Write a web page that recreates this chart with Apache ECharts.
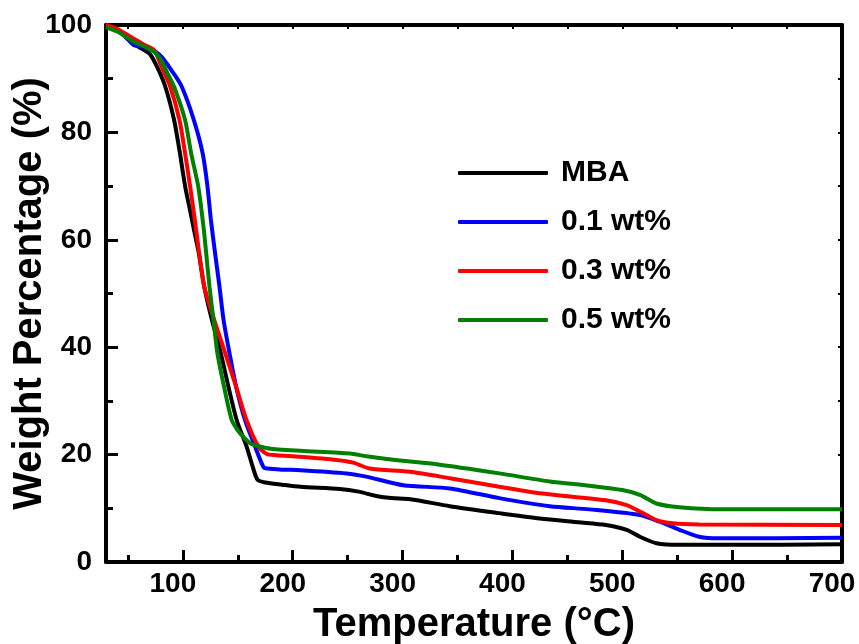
<!DOCTYPE html>
<html>
<head>
<meta charset="utf-8">
<script src="https://cdn.jsdelivr.net/npm/echarts@6/dist/echarts.min.js"></script>
<style>
  html, body { margin: 0; padding: 0; background: #fff; }
  #tga { width: 859px; height: 644px; }
</style>
</head>
<body>
<div id="tga"></div>
<script>
// temperature (°C), weight (%)
var mba = [[30,100],[42,99],[55,96.5],[65,95.3],[70,94.6],[77,92],[84,88.5],[92,82.3],[97,76.5],[102,70],[106.5,65.5],[110.5,61.5],[114.5,57.5],[119.4,51.3],[126.4,45.1],[134.5,38.9],[141.5,32.6],[149,26.4],[158,21.5],[163.6,17.7],[168,15.3],[175,14.8],[190,14.4],[207,14.0],[243,13.6],[260,13.1],[276,12.3],[290,11.9],[307,11.7],[343,10.4],[388,9.1],[425,8.1],[460,7.4],[485,6.9],[504,6.0],[516,4.7],[531,3.5],[552,3.2],[600,3.2],[700,3.3]];
var wt01 = [[30,100],[42,98.8],[50,97.3],[55,96.3],[62,96],[70,95.5],[76,94.9],[81,94],[91.5,91],[99,88.5],[110,82.3],[118,76.1],[122.4,69.9],[125.5,63.7],[129.3,57.5],[133.3,51.3],[137,45.1],[142.4,38.9],[148.5,32.6],[156.6,26.4],[165.7,21.5],[173.3,17.7],[177,17.4],[190,17.2],[207,17.1],[249,16.5],[267,15.9],[300.6,14.3],[343,13.7],[388,11.9],[434,10.4],[470,9.8],[516,8.75],[534,7.5],[552,6.0],[570,4.7],[588,4.4],[700,4.5]];
var wt03 = [[30,100],[40,99.3],[55,97.5],[65,96.3],[74,95.3],[80,92.5],[88.5,88.5],[96.9,82.3],[102,76.1],[106.6,69.9],[111,63.5],[114.5,58],[119.4,51.3],[128.5,45.1],[138.5,38.9],[148.5,32.6],[158,26.4],[168.7,21.5],[176.4,20.1],[185,19.9],[207,19.6],[240,19.0],[255,18.5],[270,17.4],[307,16.8],[343,15.6],[388,14.0],[425,12.8],[485,11.5],[504,10.6],[516,9.4],[531,7.8],[546,7.2],[570,7.0],[700,6.9]];
var wt05 = [[30,99.6],[42,98.6],[55,96.9],[65,96],[74,95],[80,93.5],[86,91],[92,88.5],[102,82.3],[107.5,76.1],[114,69.9],[118.7,62.5],[121.2,57.5],[124.2,51.3],[127.8,45.1],[131.4,38.9],[137.5,32.6],[144.5,26.4],[150,24.5],[155,23.3],[162,22],[170,21.5],[180,21.1],[207,20.7],[252,20.2],[267,19.7],[297.5,18.9],[331,18.2],[388,16.5],[434,15.0],[470,14.2],[500,13.4],[516,12.5],[531,10.9],[552,10.2],[591,9.8],[700,9.8]];

var seriesNames = ['MBA', '0.1 wt%', '0.3 wt%', '0.5 wt%'];
var seriesColors = ['#000000', '#0000ff', '#ff0000', '#008000'];
var xMajor = [100, 200, 300, 400, 500, 600, 700];
var xMinor = [50, 150, 250, 350, 450, 550, 650];
var xAll = [50, 100, 150, 200, 250, 300, 350, 400, 450, 500, 550, 600, 650, 700];

var fontFam = '"Liberation Sans", Arial, sans-serif';
var blackLine = { color: '#000', width: 4 };

function mkSeries(i, d) {
    return {
        name: seriesNames[i],
        type: 'line',
        data: d,
        xAxisIndex: 0,
        yAxisIndex: 0,
        showSymbol: false,
        smooth: 0.25,
        color: seriesColors[i],
        lineStyle: { width: 4, color: seriesColors[i] },
        z: 2 + i
    };
}

var chart = echarts.init(document.getElementById('tga'));
var option = {
    animation: false,
    backgroundColor: '#fff',
    grid: { left: 106, right: 17, top: 25, bottom: 82, containLabel: false, outerBoundsMode: 'none' },
    legend: {
        orient: 'vertical',
        left: 453,
        top: 153,
        itemWidth: 90,
        itemHeight: 4,
        itemGap: 19,
        icon: 'roundRect',
        data: seriesNames,
        textStyle: { fontFamily: fontFam, fontWeight: 'bold', fontSize: 30, color: '#000', padding: [0, 0, 0, 8] }
    },
    xAxis: [{
        type: 'value', min: 30, max: 700, position: 'bottom',
        name: 'Temperature (°C)', nameLocation: 'middle', nameGap: 43, nameMoveOverlap: false,
        nameTextStyle: { fontFamily: fontFam, fontWeight: 'bold', fontSize: 40, color: '#000' },
        axisLine: { show: true, lineStyle: blackLine },
        axisTick: { show: true, inside: true, length: 12, customValues: xMajor, lineStyle: { color: '#000', width: 3 } },
        axisLabel: { customValues: xMajor, margin: 8, padding: [0, 20, 0, 0], fontFamily: fontFam, fontWeight: 'bold', fontSize: 28, color: '#000' },
        splitLine: { show: false }
    }, {
        // minor ticks along the bottom
        type: 'value', min: 30, max: 700, position: 'bottom',
        axisLine: { show: false },
        axisTick: { show: true, inside: true, length: 7, customValues: xMinor, lineStyle: { color: '#000', width: 3 } },
        axisLabel: { show: false },
        splitLine: { show: false }
    }, {
        type: 'value', min: 30, max: 700, position: 'top',
        axisLine: { show: true, lineStyle: blackLine },
        axisTick: { show: true, inside: true, length: 4, customValues: xAll, lineStyle: { color: '#000', width: 2 } },
        axisLabel: { show: false },
        splitLine: { show: false }
    }],
    yAxis: [{
        type: 'value', min: 0, max: 100, interval: 20, position: 'left',
        name: 'Weight Percentage (%)', nameLocation: 'middle', nameGap: 56, nameMoveOverlap: false,
        nameTextStyle: { fontFamily: fontFam, fontWeight: 'bold', fontSize: 40, color: '#000' },
        axisLine: { show: true, lineStyle: blackLine },
        axisTick: { show: true, inside: true, length: 12, lineStyle: { color: '#000', width: 3 } },
        minorTick: { show: true, splitNumber: 2, length: 7, lineStyle: { color: '#000', width: 3 } },
        axisLabel: { margin: 14, fontFamily: fontFam, fontWeight: 'bold', fontSize: 28, color: '#000' },
        splitLine: { show: false }
    }, {
        type: 'value', min: 0, max: 100, interval: 10, position: 'right',
        axisLine: { show: true, lineStyle: blackLine },
        axisTick: { show: true, inside: true, length: 4, lineStyle: { color: '#000', width: 2 } },
        axisLabel: { show: false },
        splitLine: { show: false }
    }],
    series: [
        mkSeries(0, mba),
        mkSeries(1, wt01),
        mkSeries(2, wt03),
        mkSeries(3, wt05)
    ]
};
chart.setOption(option);
</script>
</body>
</html>
